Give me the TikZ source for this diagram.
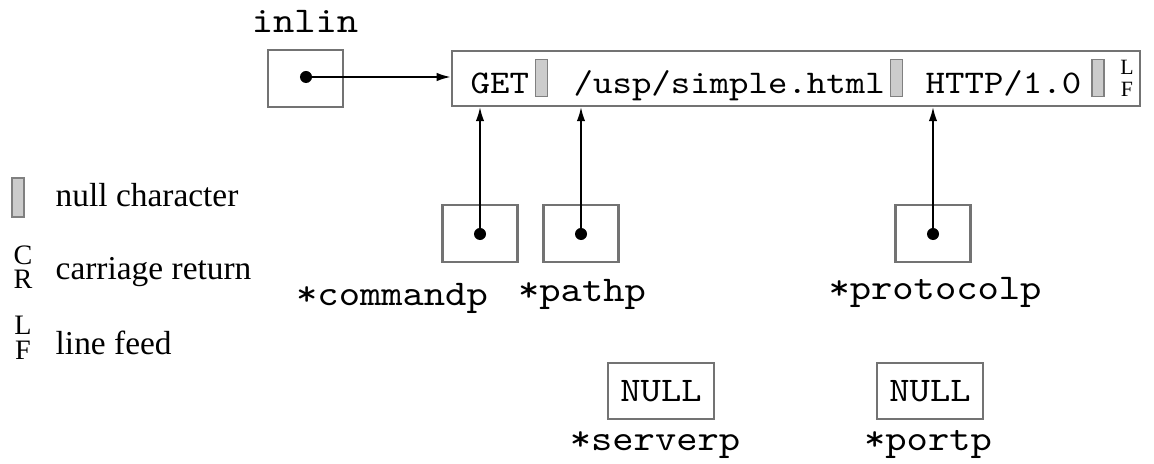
\documentclass[tikz,border=0pt]{standalone}
\usepackage{fontspec}
\setmainfont{Liberation Serif}
\setmonofont{lmmono10-regular.otf}[FakeStretch=1.12]
\usepackage{tikz}
\usetikzlibrary{arrows.meta, positioning, calc}

\tikzset{
  ptrbox/.style={draw=black!55, line width=0.6pt, minimum width=0.75cm, minimum height=0.57cm, inner sep=0pt},
  nullbox/.style={draw=black!55, line width=0.6pt, minimum width=1.06cm, minimum height=0.56cm, inner sep=0pt,
    font=\ttfamily\fontsize{9.8}{11}\selectfont},
  strbox/.style={draw=black!55, line width=0.6pt, minimum width=6.88cm, minimum height=0.55cm, inner sep=0pt},
  nullchar/.style={draw=black!50, fill=gray!40, line width=0.5pt, minimum width=0.12cm, minimum height=0.37cm, inner sep=0pt},
  ptrdot/.style={circle, fill=black, minimum size=0.12cm, inner sep=0pt},
  ptrarrow/.style={line width=0.5pt, -{Latex[length=4pt,width=2.4pt]}},
  varlabel/.style={anchor=base, inner sep=0pt, font=\ttfamily\fontsize{10.3}{12}\selectfont},
  strtext/.style={anchor=base west, inner sep=0pt, font=\ttfamily\fontsize{9.4}{11}\selectfont},
  legtext/.style={anchor=base west, inner sep=0pt, font=\fontsize{9.5}{11}\selectfont},
  stacked/.style={align=center, inner sep=0pt}
}

\begin{document}
\begin{tikzpicture}[x=0.01cm, y=-0.01cm]
  \useasboundingbox (0,0) rectangle (1154,464);

  % Request line buffer
  \node[strbox] (str) at (796,78.5) {};
  \node[strtext] (get) at (470,94) {GET};
  \node[nullchar] (nul1) at (541.5,78) {};
  \node[strtext] (path) at (573,94) {/usp/simple.html};
  \node[nullchar] (nul2) at (896.5,78) {};
  \node[strtext] (proto) at (925,94) {HTTP/1.0};
  \node[nullchar] (nul3) at (1098,78) {};
  \node[stacked, font=\fontsize{6.2}{6.3}\selectfont] (lf) at (1127,78) {L\\F};

  % inlin pointer
  \node[varlabel] (inlinlbl) at (305,33) {inlin};
  \node[ptrbox] (inlin) at (305.5,78.5) {};
  \node[ptrdot] (inlindot) at (306,77) {};
  \draw[ptrarrow] (inlindot.center) -- (inlindot -| str.west);

  % Token pointers
  \node[ptrbox] (commandp) at (480,233.5) {};
  \node[ptrdot] (cmddot) at (480,234) {};
  \node[varlabel] at (392,306) {*commandp};

  \node[ptrbox] (pathp) at (581,233.5) {};
  \node[ptrdot] (pathdot) at (581,234) {};
  \node[varlabel] at (582,301) {*pathp};

  \node[ptrbox] (protocolp) at (933,233.5) {};
  \node[ptrdot] (protodot) at (933,234) {};
  \node[varlabel] at (935,300) {*protocolp};

  \draw[ptrarrow] (cmddot.center) -- (cmddot |- str.south);
  \draw[ptrarrow] (pathdot.center) -- (pathdot |- str.south);
  \draw[ptrarrow] (protodot.center) -- (protodot |- str.south);

  % NULL pointers
  \node[nullbox] (serverp) at (661,391) {NULL};
  \node[varlabel] at (655,450) {*serverp};
  \node[nullbox] (portp) at (930,391) {NULL};
  \node[varlabel] at (928,450) {*portp};

  % Legend
  \node[nullchar, minimum height=0.39cm] (legnul) at (18,197.5) {};
  \node[legtext] at (55,207) {null character};
  \node[stacked, font=\fontsize{8}{7}\selectfont] (legcr) at (23,267) {C\\R};
  \node[legtext] at (55,280) {carriage return};
  \node[stacked, font=\fontsize{8}{7}\selectfont] (leglf) at (23,338) {L\\F};
  \node[legtext] at (55,354) {line feed};

\end{tikzpicture}
\end{document}
